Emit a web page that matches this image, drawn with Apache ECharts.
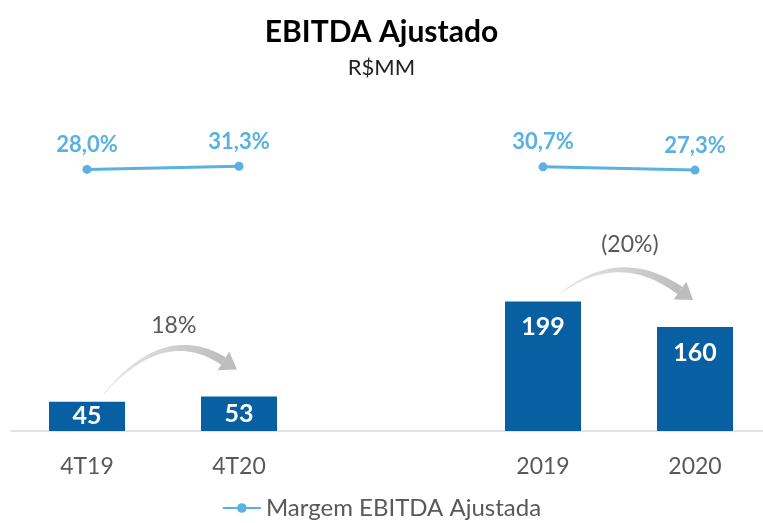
<!DOCTYPE html>
<html>
<head>
<meta charset="utf-8">
<script src="https://cdn.jsdelivr.net/npm/echarts@6/dist/echarts.min.js"></script>
<style>
  html, body { margin: 0; padding: 0; background: #fff; }
  #main { width: 763px; height: 523px; }
</style>
</head>
<body>
<div id="main"></div>
<script>
// dados do gráfico
var categories = ['4T19', '4T20', '', '2019', '2020']
var ebitda = [45, 53, null, 199, 160]
var margem = [28.0, 31.3, null, 30.7, 27.3]
// setas de variação: [de, para, texto]
var variacoes = [
  [0, 1, '18%'],
  [3, 4, '(20%)']
]

var FONT = 'Lato'
var AZUL = '#0860A2'
var AZUL_CLARO = '#5BB1E2'

var myChart = echarts.init(document.getElementById('main'))

function quad(p0, c, p1, t) {
  var u = 1 - t
  return [
    u * u * p0[0] + 2 * u * t * c[0] + t * t * p1[0],
    u * u * p0[1] + 2 * u * t * c[1] + t * t * p1[1]
  ]
}

// desenha a seta curva entre dois topos de barra
function renderArrow(params, api) {
  var from = api.value(0)
  var to = api.value(1)
  var p0 = api.coord([from, ebitda[from]])
  var p1 = api.coord([to, ebitda[to]])
  var S = [p0[0] + 17, p0[1] - 8]
  var E = [p1[0] - 2, p1[1] - 27]
  var C = [S[0] + 0.45 * (E[0] - S[0]), Math.min(S[1], E[1]) - 46]
  // direção da ponta
  var dx = E[0] - C[0], dy = E[1] - C[1]
  var len = Math.sqrt(dx * dx + dy * dy)
  dx /= len; dy /= len
  var B = [E[0] - dx * 16, E[1] - dy * 16]
  var left = [], right = []
  var n = 30
  for (var i = 0; i <= n; i++) {
    var t = i / n
    var p = quad(S, C, B, t)
    var q = quad(S, C, B, Math.min(1, t + 0.01))
    var r = quad(S, C, B, Math.max(0, t - 0.01))
    var tx = q[0] - r[0], ty = q[1] - r[1]
    var tl = Math.sqrt(tx * tx + ty * ty) || 1
    var nx = -ty / tl, ny = tx / tl
    var w = (0.8 + 8 * t) / 2
    left.push([p[0] + nx * w, p[1] + ny * w])
    right.unshift([p[0] - nx * w, p[1] - ny * w])
  }
  var nx2 = -dy, ny2 = dx
  var head = [
    [B[0] + nx2 * 11, B[1] + ny2 * 11],
    E,
    [B[0] - nx2 * 11, B[1] - ny2 * 11]
  ]
  var peak = quad(S, C, B, 0.5)
  var grad = new echarts.graphic.LinearGradient(0, 0, 1, 0, [
    { offset: 0, color: '#E8E8E8' },
    { offset: 1, color: '#BDBDBD' }
  ])
  return {
    type: 'group',
    children: [
      { type: 'polygon', shape: { points: left.concat(right) }, style: { fill: grad } },
      { type: 'polygon', shape: { points: head }, style: { fill: '#BDBDBD' } },
      {
        type: 'text',
        x: peak[0] + 10,
        y: peak[1] - 25,
        style: {
          text: api.value(2),
          fill: '#595959',
          font: '23px ' + FONT,
          align: 'center',
          verticalAlign: 'middle'
        }
      }
    ]
  }
}

myChart.setOption({
  title: {
    text: 'EBITDA Ajustado',
    subtext: 'R$MM',
    left: 'center',
    top: 12,
    itemGap: 10,
    textStyle: { fontFamily: FONT, fontSize: 30, fontWeight: 'bold', color: '#000' },
    subtextStyle: { fontFamily: FONT, fontSize: 22, color: '#222' }
  },
  legend: {
    bottom: -2,
    left: 'center',
    data: ['Margem EBITDA Ajustada'],
    itemWidth: 38,
    itemHeight: 12,
    itemGap: 4,
    textStyle: { fontFamily: FONT, fontSize: 24, color: '#595959' }
  },
  grid: { left: 11, width: 760, top: 100, bottom: 92, outerBoundsMode: 'none' },
  xAxis: {
    type: 'category',
    data: categories,
    axisLine: { lineStyle: { color: '#D9D9D9', width: 1.5 } },
    axisTick: { show: false },
    axisLabel: { fontFamily: FONT, fontSize: 23, color: '#595959', margin: 24 }
  },
  yAxis: [
    { type: 'value', min: 0, max: 509, show: false },
    { type: 'value', min: -247, max: 101, show: false }
  ],
  series: [
    {
      name: 'EBITDA Ajustado',
      type: 'bar',
      barWidth: '50%',
      itemStyle: { color: AZUL },
      data: ebitda.map(function (v) {
        return {
          value: v,
          label: { position: v > 100 ? 'insideTop' : 'inside', distance: 13 }
        }
      }),
      label: {
        show: true,
        fontFamily: FONT,
        fontSize: 25,
        fontWeight: 'bold',
        color: '#fff'
      }
    },
    {
      name: 'Margem EBITDA Ajustada',
      type: 'line',
      yAxisIndex: 1,
      data: margem,
      connectNulls: false,
      symbol: 'circle',
      symbolSize: 9,
      lineStyle: { color: AZUL_CLARO, width: 3 },
      itemStyle: { color: AZUL_CLARO },
      label: {
        show: true,
        position: 'top',
        distance: 9,
        fontFamily: FONT,
        fontSize: 22,
        fontWeight: 'bold',
        color: AZUL_CLARO,
        formatter: function (p) {
          return p.value.toFixed(1).replace('.', ',') + '%'
        }
      }
    },
    {
      type: 'custom',
      renderItem: renderArrow,
      data: variacoes,
      silent: true,
      z: 5
    }
  ]
})
</script>
</body>
</html>
